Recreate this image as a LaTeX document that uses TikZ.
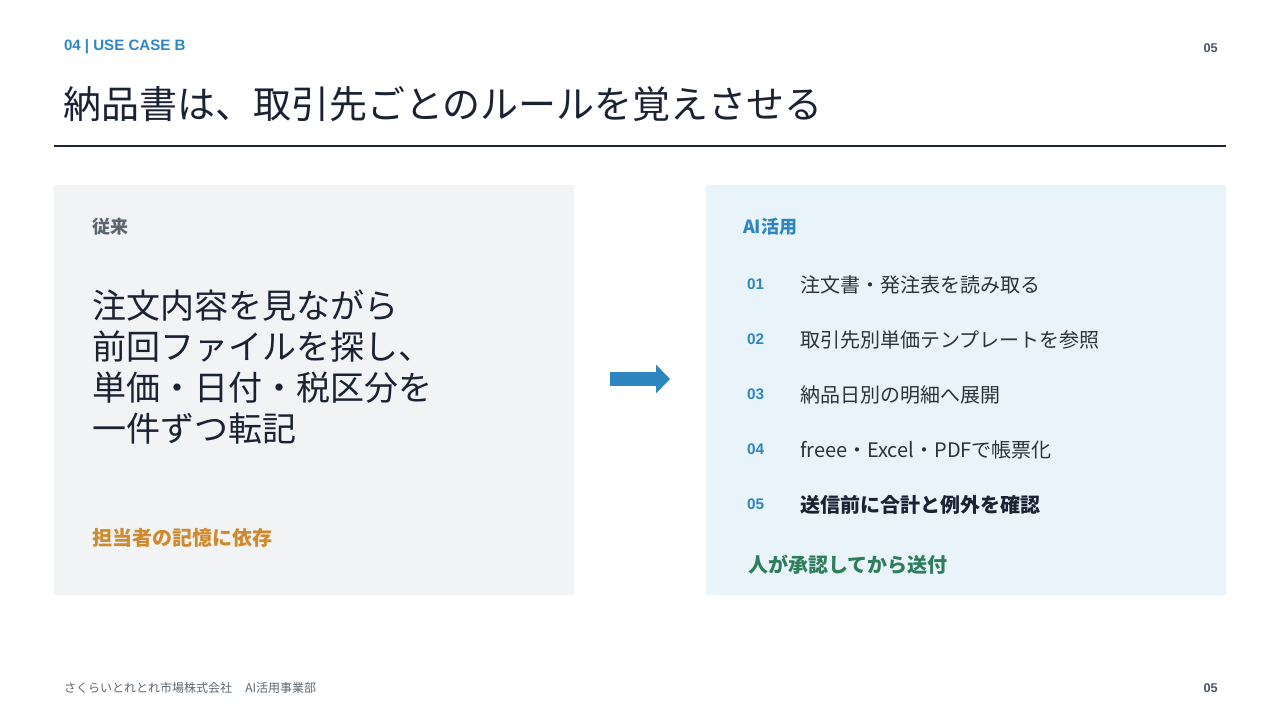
\documentclass[tikz,border=0pt]{standalone}
\usepackage{fontspec}
\setmainfont{Noto Sans CJK JP}
\newfontfamily\latinfont{Liberation Sans}
\usetikzlibrary{arrows.meta}
\definecolor{accent}{HTML}{2E86C1}
\definecolor{navy}{HTML}{1B2233}
\definecolor{inkgray}{HTML}{5B6670}
\definecolor{pagegray}{HTML}{4B5563}
\definecolor{itemink}{HTML}{2B333D}
\definecolor{oldbg}{HTML}{F1F3F5}
\definecolor{newbg}{HTML}{E8F4FA}
\definecolor{warnorange}{HTML}{CF8A2E}
\definecolor{okgreen}{HTML}{2E7D5B}
\begin{document}
\begin{tikzpicture}[x=0.75pt, y=-0.75pt,
            txt/.style={anchor=west, inner sep=0pt, outer sep=0pt},
            kicker/.style={txt, text=accent, font=\latinfont\bfseries\fontsize{11.3pt}{13pt}\selectfont},
            pageno/.style={anchor=east, inner sep=0pt, text=pagegray, font=\latinfont\bfseries\fontsize{9.5pt}{11pt}\selectfont},
            headline/.style={txt, text=navy, font=\fontsize{28.5pt}{34pt}\selectfont},
            boxlabel/.style={txt, font=\bfseries\fontsize{13.5pt}{16pt}\selectfont},
            bigline/.style={txt, text=navy, font=\fontsize{25.5pt}{31pt}\selectfont},
            stepno/.style={txt, text=accent, font=\latinfont\bfseries\fontsize{11.5pt}{14pt}\selectfont},
            steptext/.style={txt, text=itemink, font=\fontsize{15pt}{18pt}\selectfont},
            note/.style={txt, font=\bfseries\fontsize{15pt}{18pt}\selectfont},
            flow/.style={draw=accent, line width=10.5pt, -{Triangle[width=21pt, length=10.5pt]}}
        ]
            \useasboundingbox[fill=white] (0,0) rectangle (1280,720);

            \node[kicker] (kick) at (64,46.5) {04 | USE CASE B};
            \node[pageno] (ptop) at (1218,48.5) {05};
            \node[headline] (title) at (63,104) {納品書は、取引先ごとのルールを覚えさせる};
            \draw[line width=1.2pt, navy] (54,146) -- (1226,146);

            \fill[oldbg] (54,185) rectangle (574,595);
            \node[boxlabel, text=inkgray] (old) at (92,227) {従来};
            \node[bigline] (old1) at (92,305.5) {注文内容を見ながら};
            \node[bigline] (old2) at (92,346.5) {前回ファイルを探し、};
            \node[bigline] (old3) at (92,387.5) {単価・日付・税区分を};
            \node[bigline] (old4) at (92,429) {一件ずつ転記};
            \node[note, text=warnorange] (oldnote) at (92,537.5) {担当者の記憶に依存};

            \coordinate (from) at (610,379);
            \coordinate (to) at (670,379);
            \draw[flow] (from) -- (to);

            \fill[newbg] (706,185) rectangle (1226,595);
            \node[boxlabel, text=accent] (ai) at (743,227) {AI活用};
            \node[stepno] (n1) at (747,284) {01};
            \node[steptext] (s1) at (800,284.5) {注文書・発注表を読み取る};
            \node[stepno] (n2) at (747,339) {02};
            \node[steptext] (s2) at (800,339.5) {取引先別単価テンプレートを参照};
            \node[stepno] (n3) at (747,394) {03};
            \node[steptext] (s3) at (800,394.5) {納品日別の明細へ展開};
            \node[stepno] (n4) at (747,449) {04};
            \node[steptext] (s4) at (800,449.5) {freee・Excel・PDFで帳票化};
            \node[stepno] (n5) at (747,504) {05};
            \node[steptext, text=navy, font=\bfseries\fontsize{15pt}{18pt}\selectfont] (s5) at (800,504.5) {送信前に合計と例外を確認};
            \node[note, text=okgreen] (newnote) at (748,564.5) {人が承認してから送付};

            \node[txt, text=inkgray, font=\fontsize{9pt}{11pt}\selectfont] (foot) at (64,688) {さくらいとれとれ市場株式会社\hspace{10pt}AI活用事業部};
            \node[pageno] (pbot) at (1218,688.5) {05};
        \end{tikzpicture}
\end{document}
